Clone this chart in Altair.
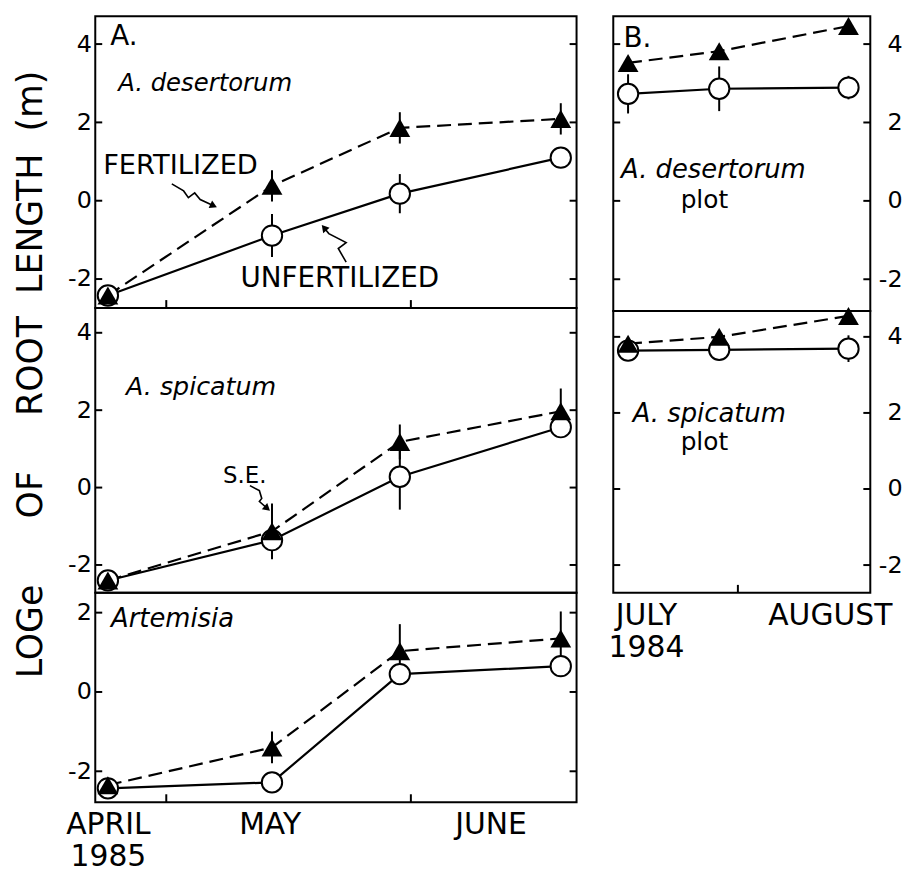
import altair as alt
import pandas as pd

FONT = "DejaVu Sans"

# ---------------- data (x = day of year, y = log_e root length) ----------------
days_1985 = [113.6, 134.4, 150.6, 171.0]
days_1984 = [199.9, 211.6, 228.2]

# Panel A, A. desertorum (1985)
des_fert = [-2.42, 0.38, 1.86, 2.09]
des_fert_se = [0.0, 0.40, 0.40, 0.40]
des_unf = [-2.42, -0.89, 0.18, 1.10]
des_unf_se = [0.0, 0.55, 0.50, 0.20]

# Panel A, A. spicatum (1985)
spi_fert = [-2.40, -1.13, 1.18, 1.97]
spi_fert_se = [0.0, 0.72, 0.45, 0.59]
spi_unf = [-2.40, -1.36, 0.28, 1.56]
spi_unf_se = [0.0, 0.46, 0.85, 0.20]

# Panel A, Artemisia (1985)
art_fert = [-2.35, -1.40, 1.03, 1.35]
art_fert_se = [0.0, 0.40, 0.68, 0.68]
art_unf = [-2.43, -2.28, 0.45, 0.65]
art_unf_se = [0.0, 0.0, 0.20, 0.20]

# Panel B, A. desertorum plot (1984)
desplot_fert = [3.52, 3.82, 4.46]
desplot_fert_se = [0.0, 0.0, 0.0]
desplot_unf = [2.73, 2.86, 2.89]
desplot_unf_se = [0.50, 0.57, 0.30]

# Panel B, A. spicatum plot (1984)
spiplot_fert = [3.82, 4.00, 4.55]
spiplot_fert_se = [0.0, 0.0, 0.0]
spiplot_unf = [3.64, 3.66, 3.69]
spiplot_unf_se = [0.0, 0.0, 0.35]

# axes
yticks_big = [-2, 0, 2, 4]
yticks_small = [-2, 0, 2]
month_ticks_1985 = [121, 152]      # May 1, June 1
month_ticks_1984 = [214]           # Aug 1
month_label_pos_1985 = [113.6, 134.1, 162.1]
month_label_pos_1984 = [202.2, 225.8]
expr_1985 = "datum.value < 120 ? ['APRIL', '1985'] : (datum.value < 140 ? 'MAY' : 'JUNE')"
expr_1984 = "datum.value < 210 ? ['JULY', '1984'] : 'AUGUST'"

NB = "\u00a0"
y_title = ("LOGe" + NB * 6 + "OF" + NB * 5 + "ROOT" + NB * 2 + "LENGTH" + NB * 2 + "(m)")

# annotations: (text, day, value, fontSize, style, align)
ann_des = [("A.", 113.9, 4.18, 28, "normal", "left"),
           ("A. desertorum", 114.9, 2.99, 24.5, "italic", "left"),
           ("FERTILIZED", 113.0, 0.88, 27.5, "normal", "left"),
           ("UNFERTILIZED", 130.4, -2.00, 28, "normal", "left")]
ann_spi = [("A. spicatum", 115.9, 2.61, 25.5, "italic", "left"),
           ("S.E.", 128.2, 0.31, 23, "normal", "left")]
ann_art = [("Artemisia", 114.0, 1.83, 26, "italic", "left")]
ann_desplot = [("B.", 199.3, 4.13, 28, "normal", "left"),
               ("A. desertorum", 199.0, 0.78, 26, "italic", "left"),
               ("plot", 209.7, 0.03, 25, "normal", "center")]
ann_spiplot = [("A. spicatum", 200.5, 1.97, 26, "italic", "left"),
               ("plot", 209.7, 1.24, 25, "normal", "center")]

# squiggly pointer arrows (day, value) and arrowhead angle
arrow_fert_day = [121.7, 123.2, 123.8, 124.6, 125.3, 127.0]
arrow_fert_val = [0.43, 0.25, 0.08, 0.20, 0.03, -0.13]
arrow_unf_day = [143.8, 142.8, 143.8, 141.6, 141.0]
arrow_unf_val = [-1.57, -1.22, -1.07, -0.84, -0.69]
arrow_se_day = [131.6, 132.8, 133.1, 132.8, 133.8]
arrow_se_val = [0.05, -0.08, -0.28, -0.36, -0.54]


def panel(days, fert, fert_se, unf, unf_se, ydom, yticks, xdom, w, h, side,
          texts, xticks=None, xlabels=None, xexpr=None, arrows=None):
    xscale = alt.Scale(domain=xdom, nice=False, zero=False)
    yscale = alt.Scale(domain=ydom, nice=False, zero=False)
    if xlabels is not None:
        xaxis = alt.Axis(values=xlabels, labelExpr=xexpr, ticks=False, domain=False,
                         grid=False, labelFontSize=30, labelPadding=8,
                         labelLineHeight=32, labelFlush=False, labelOverlap=False,
                         labelFont=FONT, labelColor="black", title=None)
    else:
        xaxis = None
    if side == "left":
        yaxis = alt.Axis(orient="left", values=yticks, labelExpr="'' + datum.value",
                         ticks=False, domain=False, grid=False, labelFontSize=24,
                         labelPadding=4, labelAlign="right", labelFont=FONT,
                         labelColor="black", title=None)
    else:
        yaxis = alt.Axis(orient="right", values=yticks, labelExpr="'' + datum.value",
                         ticks=False, domain=False, grid=False, labelFontSize=24,
                         labelPadding=32, labelAlign="right", labelFont=FONT,
                         labelColor="black", title=None)

    def X(f="day"):
        return alt.X(f"{f}:Q", scale=xscale, axis=xaxis, title=None)

    def Y(f="val"):
        return alt.Y(f"{f}:Q", scale=yscale, axis=yaxis, title=None)

    df_f = pd.DataFrame({"day": days, "val": fert, "se": fert_se})
    df_u = pd.DataFrame({"day": days, "val": unf, "se": unf_se})
    df_err = pd.concat([df_f, df_u])
    df_err = df_err[df_err["se"] > 0]

    layers = []
    if len(df_err):
        layers.append(
            alt.Chart(df_err).transform_calculate(
                lo="datum.val - datum.se", hi="datum.val + datum.se"
            ).mark_rule(color="black", strokeWidth=2).encode(x=X(), y=Y("lo"), y2="hi:Q")
        )
    layers.append(alt.Chart(df_u).mark_line(color="black", strokeWidth=2.2).encode(x=X(), y=Y()))
    layers.append(alt.Chart(df_f).mark_line(color="black", strokeWidth=2.2,
                                            strokeDash=[14, 7]).encode(x=X(), y=Y()))
    layers.append(alt.Chart(df_u).mark_point(shape="circle", filled=True, fill="white",
                                             stroke="black", strokeWidth=2, size=420,
                                             opacity=1).encode(x=X(), y=Y()))
    layers.append(alt.Chart(df_f).mark_point(shape="triangle-up", filled=True, fill="black",
                                             color="black", size=440,
                                             opacity=1).encode(x=X(), y=Y()))
    # inward y ticks on both sides
    df_yt = pd.DataFrame({"val": yticks})
    layers.append(alt.Chart(df_yt).mark_rule(color="black", strokeWidth=2).encode(
        y=Y(), x=alt.value(0), x2=alt.value(7)))
    layers.append(alt.Chart(df_yt).mark_rule(color="black", strokeWidth=2).encode(
        y=Y(), x=alt.value(w - 7), x2=alt.value(w)))
    if xticks:
        df_xt = pd.DataFrame({"day": xticks})
        layers.append(alt.Chart(df_xt).mark_rule(color="black", strokeWidth=2).encode(
            x=X(), y=alt.value(h), y2=alt.value(h - 8)))
    for (t, d, v, fs, style, align) in texts:
        layers.append(alt.Chart(pd.DataFrame({"day": [d], "val": [v], "label": [t]})).mark_text(
            align=align, baseline="middle", fontSize=fs, fontStyle=style, font=FONT,
            color="black").encode(x=X(), y=Y(), text="label:N"))
    if arrows:
        for (ad, av, ang) in arrows:
            dfa = pd.DataFrame({"day": ad, "val": av, "i": list(range(len(ad)))})
            layers.append(alt.Chart(dfa).mark_line(color="black", strokeWidth=1.6).encode(
                x=X(), y=Y(), order="i:Q"))
            layers.append(alt.Chart(dfa.tail(1)).mark_point(
                shape="triangle-right", filled=True, color="black", size=70, angle=ang,
                opacity=1).encode(x=X(), y=Y()))
    return alt.layer(*layers).properties(width=w, height=h)


p_des = panel(days_1985, des_fert, des_fert_se, des_unf, des_unf_se,
              [-2.74, 4.71], yticks_big, [112, 173], 485, 294, "left", ann_des,
              xticks=month_ticks_1985,
              arrows=[(arrow_fert_day, arrow_fert_val, 25),
                      (arrow_unf_day, arrow_unf_val, 230)])
p_spi = panel(days_1985, spi_fert, spi_fert_se, spi_unf, spi_unf_se,
              [-2.72, 4.64], yticks_big, [112, 173], 485, 287, "left", ann_spi,
              arrows=[(arrow_se_day, arrow_se_val, 41)])
p_art = panel(days_1985, art_fert, art_fert_se, art_unf, art_unf_se,
              [-2.78, 2.5], yticks_small, [112, 173], 485, 211, "left", ann_art,
              xticks=month_ticks_1985, xlabels=month_label_pos_1985, xexpr=expr_1985)
p_desplot = panel(days_1984, desplot_fert, desplot_fert_se, desplot_unf, desplot_unf_se,
                  [-2.81, 4.71], yticks_big, [198, 231], 259, 297, "right", ann_desplot)
p_spiplot = panel(days_1984, spiplot_fert, spiplot_fert_se, spiplot_unf, spiplot_unf_se,
                  [-2.73, 4.68], yticks_big, [198, 231], 259, 284, "right", ann_spiplot,
                  xticks=month_ticks_1984, xlabels=month_label_pos_1984, xexpr=expr_1984)

left = alt.vconcat(p_des, p_spi, p_art, spacing=0, bounds="flush",
                   title=alt.TitleParams(text=y_title, orient="left", anchor="middle",
                                         fontSize=35, fontWeight="normal", font=FONT,
                                         color="black", offset=16, dx=70))
right = alt.vconcat(p_desplot, p_spiplot, spacing=0, bounds="flush")

chart = alt.hconcat(left, right, spacing=28).properties(
    padding={"left": 14, "top": 12, "right": 5, "bottom": 5},
    background="white",
).configure_view(stroke="black", strokeWidth=2)

chart.save("out.html", embed_options={"renderer": "svg", "actions": False})
